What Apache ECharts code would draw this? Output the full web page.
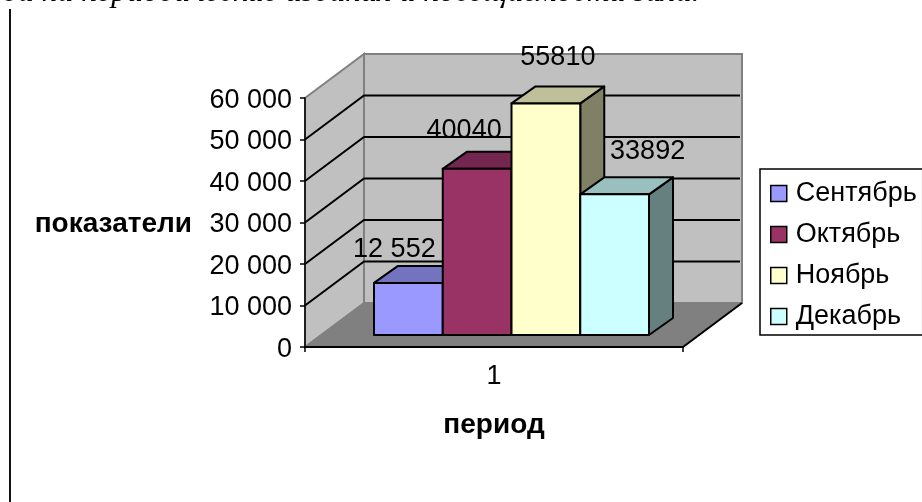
<!DOCTYPE html>
<html>
<head>
<meta charset="utf-8">
<style>html,body{margin:0;padding:0;background:#fff}#chart{width:922px;height:502px}</style>
<script src="https://cdn.jsdelivr.net/npm/echarts@6/dist/echarts.min.js"></script>
</head>
<body>
<div id="chart"></div>
<script>
var categories = ['1'];
var months = ['Сентябрь', 'Октябрь', 'Ноябрь', 'Декабрь'];
var sep = [12552];
var oct = [40040];
var nov = [55810];
var dec = [33892];
var valueLabels = ['12 552', '40040', '55810', '33892'];
var yTicks = [0, 10000, 20000, 30000, 40000, 50000, 60000];
var yTitle = 'показатели';
var xTitle = 'период';
var caption = 'да на периодические издания и посещаемости зала.';

var frontColors = ['#9999FF', '#993366', '#FFFFCC', '#CCFFFF'];
var topColors = ['#7373BF', '#732650', '#BFBF99', '#99BFBF'];
var sideColors = ['#666699', '#66223F', '#808066', '#668080'];
var labelOffsets = [[-14, -33], [-13, -38], [12, -46], [33, -43]];
var FONT = '"Liberation Sans", Arial, sans-serif';
var FONT_SIZE = 27;
var TITLE_SIZE = 28;
var WALL_DX = 59, WALL_DY = 44;
var BAR_SHIFT_X = 17.5, BAR_SHIFT_Y = 12;
var BAR_DX = 24, BAR_DY = 17;
var BAR_FILL = 0.7275;

function spaced(v) { return String(v).replace(/\B(?=(\d{3})+$)/g, ' '); }

function renderWalls(params, api) {
  var g = params.coordSys;
  var x0 = g.x, x1 = g.x + g.width;
  var y = api.coord([0, api.value(0)])[1];
  var children = [];
  var line = { stroke: '#000', lineWidth: 2, fill: null };
  if (params.dataIndex === 0) {
    var yTop = g.y, yBot = g.y + g.height;
    var grey = { stroke: '#808080', lineWidth: 2 };
    children.push({ type: 'polygon', shape: { points: [[x0 + WALL_DX, yTop - WALL_DY], [x1 + WALL_DX, yTop - WALL_DY], [x1 + WALL_DX, yBot - WALL_DY], [x0 + WALL_DX, yBot - WALL_DY]] }, style: Object.assign({ fill: '#C0C0C0' }, grey) });
    children.push({ type: 'polygon', shape: { points: [[x0, yTop], [x0 + WALL_DX, yTop - WALL_DY], [x0 + WALL_DX, yBot - WALL_DY], [x0, yBot]] }, style: Object.assign({ fill: '#C0C0C0' }, grey) });
    children.push({ type: 'polygon', shape: { points: [[x0, yBot], [x1, yBot], [x1 + WALL_DX, yBot - WALL_DY], [x0 + WALL_DX, yBot - WALL_DY]] }, style: { fill: '#808080', stroke: '#808080', lineWidth: 1 } });
    children.push({ type: 'line', shape: { x1: x1, y1: yBot, x2: x1 + WALL_DX, y2: yBot - WALL_DY }, style: { stroke: '#000', lineWidth: 2 } });
  } else if (api.value(0) !== yTicks[yTicks.length - 1]) {
    children.push({ type: 'polyline', shape: { points: [[x0, y], [x0 + WALL_DX, y - WALL_DY], [x1 + WALL_DX - 2, y - WALL_DY]] }, style: line });
  }
  return { type: 'group', children: children };
}

function renderBar(index) {
  return function (params, api) {
    var p = api.coord([api.value(0), api.value(1)]);
    var band = api.size([1, 0])[0];
    var base = api.coord([api.value(0), 0])[1] - BAR_SHIFT_Y;
    var w = band * BAR_FILL / months.length;
    var l = p[0] + BAR_SHIFT_X - w * months.length / 2 + index * w;
    var r = l + w;
    var t = p[1] - BAR_SHIFT_Y;
    var edge = { stroke: '#000', lineWidth: 2, lineJoin: 'round' };
    return {
      type: 'group',
      children: [
        { type: 'polygon', shape: { points: [[r, base], [r + BAR_DX, base - BAR_DY], [r + BAR_DX, t - BAR_DY], [r, t]] }, style: Object.assign({ fill: sideColors[index] }, edge) },
        { type: 'polygon', shape: { points: [[l, t], [l + BAR_DX, t - BAR_DY], [r + BAR_DX, t - BAR_DY], [r, t]] }, style: Object.assign({ fill: topColors[index] }, edge) },
        { type: 'rect', shape: { x: l, y: t, width: w, height: base - t }, style: Object.assign({ fill: frontColors[index] }, edge) },
        { type: 'text', z2: 100, style: { text: valueLabels[index], x: (l + r) / 2 + labelOffsets[index][0], y: t + labelOffsets[index][1], align: 'center', verticalAlign: 'middle', fill: '#000', font: FONT_SIZE + 'px ' + FONT } }
      ]
    };
  };
}

var barSeries = [sep, oct, nov, dec].map(function (vals, i) {
  return {
    type: 'custom', name: months[i], z: 3 + i, clip: false,
    itemStyle: { color: frontColors[i] },
    encode: { x: 0, y: 1 },
    data: vals.map(function (v, k) { return [k, v]; }),
    renderItem: renderBar(i)
  };
});

var chart = echarts.init(document.getElementById('chart'), null, { renderer: 'canvas' });
chart.setOption({
  animation: false,
  backgroundColor: '#fff',
  tooltip: { show: false },
  grid: { left: 305, top: 98, width: 378, height: 249 },
  graphic: [
    { type: 'line', shape: { x1: 10, y1: 9, x2: 10, y2: 502 }, style: { stroke: '#111', lineWidth: 2 } },
    { type: 'text', left: 2, top: -23, style: { text: caption, font: 'italic 31.7px "Liberation Serif", serif', fill: '#000' } }
  ],
  legend: {
    left: 760, top: 169, orient: 'vertical',
    data: months,
    padding: [11, 6, 5, 10],
    borderColor: '#000', borderWidth: 1.5, backgroundColor: '#fff',
    icon: 'rect', itemWidth: 16, itemHeight: 16, itemGap: 14,
    itemStyle: { borderColor: '#000', borderWidth: 1.5 },
    textStyle: { fontFamily: FONT, fontSize: FONT_SIZE, color: '#000', padding: [0, 0, 0, 4] },
    selectedMode: false
  },
  xAxis: {
    type: 'category', data: categories, boundaryGap: true,
    name: xTitle, nameLocation: 'middle', nameGap: 64,
    nameTextStyle: { fontFamily: FONT, fontSize: TITLE_SIZE, fontWeight: 'bold', color: '#000' },
    axisLine: { lineStyle: { color: '#000', width: 2 } },
    axisTick: { show: true, length: 5, lineStyle: { color: '#000', width: 1.5 } },
    axisLabel: { fontFamily: FONT, fontSize: FONT_SIZE, color: '#000', margin: 16 },
    splitLine: { show: false }, z: 10
  },
  yAxis: {
    type: 'value', min: 0, max: 60000, interval: 10000,
    name: yTitle, nameLocation: 'middle', nameRotate: 0, nameGap: 113,
    nameTextStyle: { fontFamily: FONT, fontSize: TITLE_SIZE, fontWeight: 'bold', color: '#000', verticalAlign: 'top', padding: [-12, 0, 0, 0] },
    axisLine: { show: true, lineStyle: { color: '#000', width: 1.5 } },
    axisTick: { show: true, length: 5, lineStyle: { color: '#000', width: 1.5 } },
    axisLabel: { fontFamily: FONT, fontSize: FONT_SIZE, color: '#000', margin: 13, verticalAlign: 'top', padding: [-11, 0, 0, 0], formatter: spaced },
    splitLine: { show: false }, z: 10
  },
  series: [{
    type: 'custom', name: 'walls', silent: true, z: 1, clip: false,
    encode: { y: 0 },
    data: yTicks.map(function (v) { return [v]; }),
    renderItem: renderWalls
  }].concat(barSeries)
});
</script>
</body>
</html>
